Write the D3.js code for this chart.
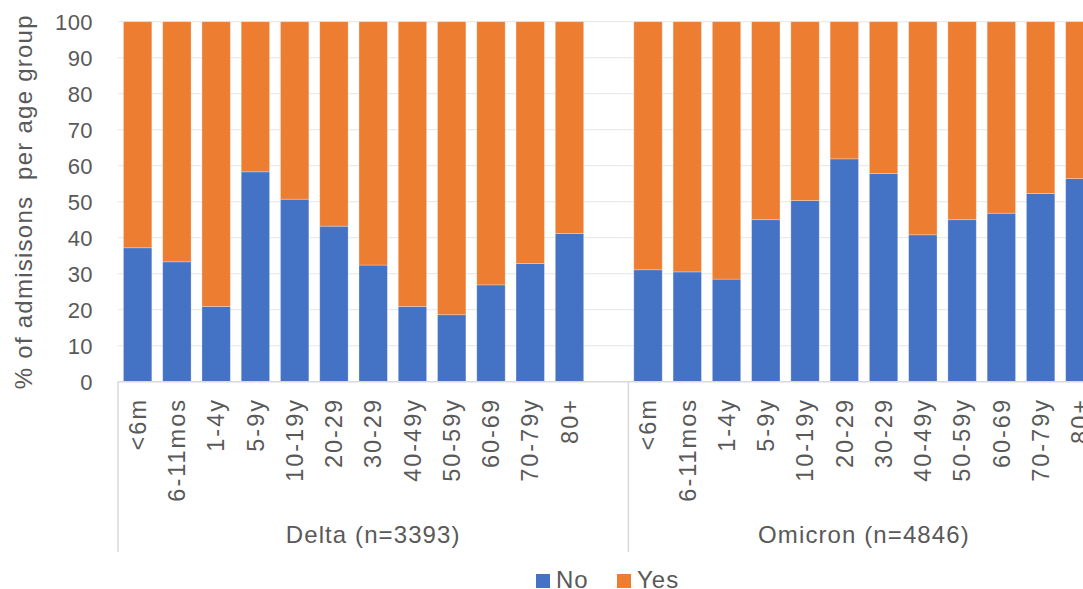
<!DOCTYPE html>
<html>
<head>
<meta charset="utf-8">
<script src="https://cdn.jsdelivr.net/npm/d3@7"></script>
<style>
  html, body { margin: 0; padding: 0; background: #fff; overflow: hidden; }
  svg { display: block; font-family: "Liberation Sans", Arial, sans-serif; }
</style>
</head>
<body>
<svg id="chart" width="1083" height="589"></svg>
<script>
// ---- data ----
const categories = ["<6m","6-11mos","1-4y","5-9y","10-19y","20-29","30-29","40-49y","50-59y","60-69","70-79y","80+"];
const groups = ["Delta (n=3393)", "Omicron (n=4846)"];
const deltaNo    = [37.2, 33.3, 20.9, 58.3, 50.7, 43.2, 32.4, 20.9, 18.6, 26.9, 32.8, 41.2];
const deltaYes   = [62.8, 66.7, 79.1, 41.7, 49.3, 56.8, 67.6, 79.1, 81.4, 73.1, 67.2, 58.8];
const omicronNo  = [31.1, 30.5, 28.5, 45.0, 50.3, 61.9, 57.8, 40.8, 45.0, 46.8, 52.3, 56.4];
const omicronYes = [68.9, 69.5, 71.5, 55.0, 49.7, 38.1, 42.2, 59.2, 55.0, 53.2, 47.7, 43.6];
const seriesNames = ["No", "Yes"];
const yTicks = [0,10,20,30,40,50,60,70,80,90,100];
const colors = {No: "#4472C4", Yes: "#ED7D31"};

(function () {
// ---- build table (Delta group carries one empty slot at its end) ----
const rows = [];
categories.forEach((c, i) => rows.push({key: "D|" + c, group: 0, cat: c, No: deltaNo[i], Yes: deltaYes[i]}));
rows.push({key: "D|blank", group: 0, cat: "", No: 0, Yes: 0, blank: true});
categories.forEach((c, i) => rows.push({key: "O|" + c, group: 1, cat: c, No: omicronNo[i], Yes: omicronYes[i]}));

const svg = d3.select("#chart");
const pLeft = 118, pRight = 1099.5, pTop = 21.7, pBottom = 381.7;

const x = d3.scaleBand()
  .domain(rows.map(d => d.key))
  .range([pLeft, pRight])
  .paddingInner(0.277)
  .paddingOuter(0.1385);

const y = d3.scaleLinear().domain([0, 100]).range([pBottom, pTop]);

const textColor = "#595959";

// gridlines
svg.append("g")
  .selectAll("line")
  .data(yTicks.filter(t => t > 0))
  .join("line")
  .attr("x1", pLeft).attr("x2", pRight)
  .attr("y1", d => y(d)).attr("y2", d => y(d))
  .attr("stroke", "#ebebeb").attr("stroke-width", 1.3);

// y axis tick labels
const yAxis = d3.axisLeft(y).tickValues(yTicks).tickSize(0).tickPadding(0);
const yg = svg.append("g").attr("transform", `translate(93,0)`).call(yAxis);
yg.select(".domain").remove();
yg.selectAll("text")
  .attr("fill", textColor)
  .attr("font-size", 22)
  .attr("letter-spacing", 0.4)
  .attr("font-family", "Liberation Sans, Arial, sans-serif")
  .attr("dy", "0.35em");

// y title
svg.append("text")
  .attr("transform", `translate(32,${(pTop + pBottom) / 2}) rotate(-90)`)
  .attr("text-anchor", "middle")
  .attr("fill", textColor)
  .attr("font-size", 24)
  .attr("letter-spacing", 1.25)
  .style("white-space", "pre")
  .text("% of admisisons  per age group");

// stacked bars
const stack = d3.stack().keys(seriesNames);
const stacked = stack(rows.filter(d => !d.blank));
svg.append("g")
  .selectAll("g")
  .data(stacked)
  .join("g")
  .attr("fill", s => colors[s.key])
  .selectAll("rect")
  .data(s => s)
  .join("rect")
  .attr("x", d => x(d.data.key))
  .attr("width", x.bandwidth())
  .attr("y", d => y(d[1]))
  .attr("height", d => y(d[0]) - y(d[1]))
  .attr("stroke", "#ffffff")
  .attr("stroke-opacity", 0.35)
  .attr("stroke-width", 0.8);

// x axis line
const axisColor = "#d9d9d9";
svg.append("line")
  .attr("x1", pLeft).attr("x2", pRight)
  .attr("y1", pBottom).attr("y2", pBottom)
  .attr("stroke", axisColor).attr("stroke-width", 1.5);

// group separators
const step = x.step();
const sepX = [pLeft, pLeft + 13 * step, pRight];
svg.append("g")
  .selectAll("line")
  .data(sepX)
  .join("line")
  .attr("x1", d => d).attr("x2", d => d)
  .attr("y1", pBottom).attr("y2", 552)
  .attr("stroke", axisColor).attr("stroke-width", 1.5);

// category labels
svg.append("g")
  .selectAll("text")
  .data(rows.filter(d => !d.blank))
  .join("text")
  .attr("transform", d => `translate(${x(d.key) + x.bandwidth() / 2},398) rotate(-90)`)
  .attr("text-anchor", "end")
  .attr("dy", "0.35em")
  .attr("fill", textColor)
  .attr("font-size", 23.5)
  .attr("letter-spacing", 2)
  .text(d => d.cat);

// group labels
const groupCenters = [(sepX[0] + sepX[1]) / 2, (sepX[1] + sepX[2]) / 2];
svg.append("g")
  .selectAll("text")
  .data(groups)
  .join("text")
  .attr("x", (d, i) => groupCenters[i])
  .attr("y", 543)
  .attr("text-anchor", "middle")
  .attr("fill", textColor)
  .attr("font-size", 24)
  .attr("letter-spacing", 1.1)
  .text(d => d);

// legend
const legendItems = [{name: "No", sx: 536, tx: 556}, {name: "Yes", sx: 617, tx: 637}];
const lg = svg.append("g");
lg.selectAll("rect")
  .data(legendItems)
  .join("rect")
  .attr("x", d => d.sx).attr("y", 574)
  .attr("width", 14).attr("height", 14)
  .attr("fill", d => colors[d.name]);
lg.selectAll("text")
  .data(legendItems)
  .join("text")
  .attr("x", d => d.tx).attr("y", 588)
  .attr("fill", textColor)
  .attr("font-size", 24)
  .attr("letter-spacing", 1)
  .text(d => d.name);
})();
</script>
</body>
</html>
